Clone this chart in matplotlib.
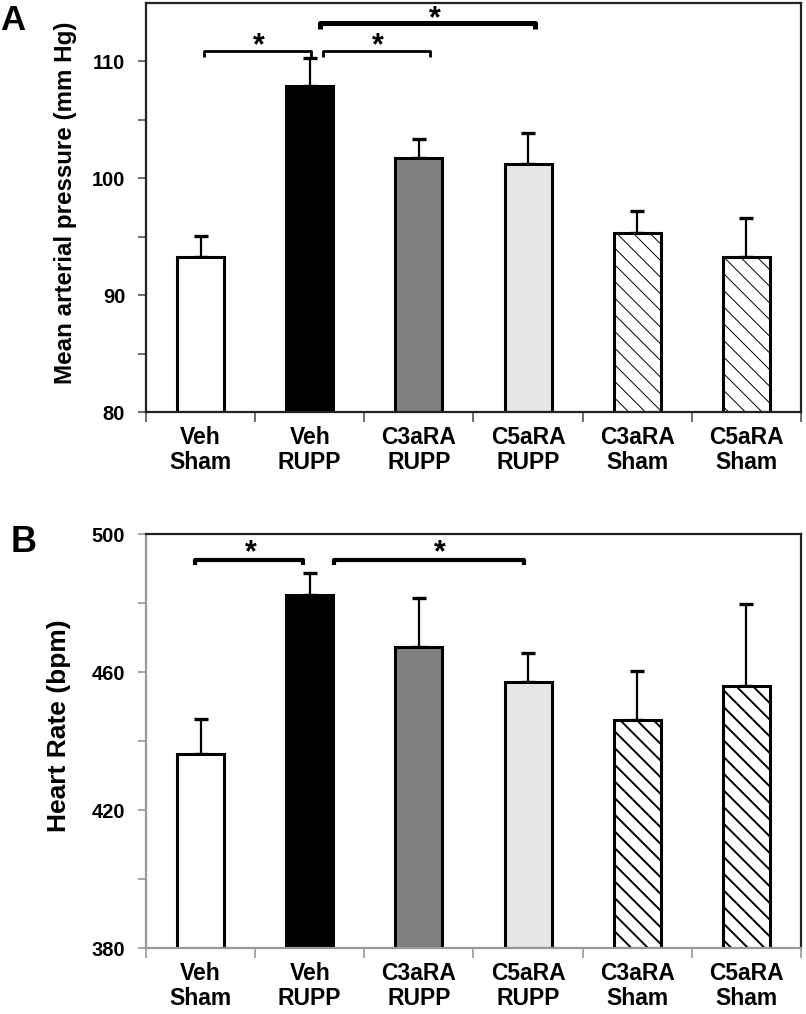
import numpy as np
import matplotlib.pyplot as plt

plt.rcParams['font.family'] = ['Liberation Sans', 'DejaVu Sans']
plt.rcParams['font.weight'] = 'bold'

# ---- data ----
groups = ["Veh\nSham", "Veh\nRUPP", "C3aRA\nRUPP", "C5aRA\nRUPP", "C3aRA\nSham", "C5aRA\nSham"]
map_mean = [93.3, 107.9, 101.7, 101.2, 95.3, 93.3]
map_err = [1.8, 2.4, 1.7, 2.7, 1.9, 3.3]
hr_mean = [436.3, 482.4, 467.2, 457.2, 446.2, 456.0]
hr_err = [10.2, 6.3, 14.2, 8.4, 14.0, 23.8]

bar_colors = ["white", "black", "#808080", "#e6e6e6", "white", "white"]
bar_hatch = [None, None, None, None, "\\\\", "\\\\"]

# significance brackets: (x start, x end, height)
map_brackets = [(0.03, 1.01, 110.9), (1.12, 2.10, 110.9), (1.09, 3.06, 113.3)]
map_bracket_lw = [2.0, 2.0, 3.6]
map_stars = [(0.53, 111.3), (1.62, 111.3), (2.15, 113.6)]
hr_brackets = [(-0.05, 0.94, 492.5), (1.22, 2.96, 492.5)]
hr_stars = [(0.46, 494.3), (2.19, 494.3)]

W, H = 806, 1014
fig = plt.figure(figsize=(W / 100, H / 100), dpi=100)


def panel(rect, means, errs, ylim, major, minor, ylabel, label_size, label_xy,
          spine_col, tick_col, brackets, bracket_lw, stars, tick_drop, hatch_lw):
    ax = fig.add_axes(rect)
    x = np.arange(len(means))
    bars = ax.bar(x, np.array(means) - ylim[0], bottom=ylim[0], width=0.43,
                  color=bar_colors, edgecolor="black", linewidth=2.2, zorder=2)
    for b, h in zip(bars, bar_hatch):
        if h:
            b.set_hatch(h)
            try:
                b.set_hatch_linewidth(hatch_lw)
            except AttributeError:
                pass
    ax.errorbar(x, means, yerr=[np.zeros(len(errs)), errs], fmt="none",
                ecolor="black", elinewidth=1.6, capsize=5, capthick=2.4, zorder=1)
    ax.set_xlim(-0.5, len(means) - 0.5)
    ax.set_ylim(*ylim)
    ax.set_yticks(minor, minor=True)
    ax.set_yticks(major)
    ax.set_yticklabels([str(v) for v in major], fontsize=14.5, fontweight="bold")
    ax.set_xticks(x)
    ax.set_xticklabels(groups, fontsize=16.5, fontweight="bold", linespacing=1.12)
    ax.set_xticks(np.arange(len(means) + 1) - 0.5, minor=True)
    ax.tick_params(axis="x", which="major", length=0, pad=10)
    ax.tick_params(axis="x", which="minor", length=7, width=1.2, color=tick_col)
    ax.tick_params(axis="y", which="both", length=6, width=1.2, color=tick_col, pad=9)
    for s in ["top", "right"]:
        ax.spines[s].set_color("#222222")
        ax.spines[s].set_linewidth(1.6)
    for s in ["left", "bottom"]:
        ax.spines[s].set_color(spine_col)
        ax.spines[s].set_linewidth(1.6)
    ax.set_ylabel(ylabel, fontsize=label_size, fontweight="bold")
    ax.yaxis.set_label_coords(*label_xy)
    for (x0, x1, yb), lw in zip(brackets, bracket_lw):
        ax.plot([x0, x0, x1, x1], [yb - tick_drop, yb, yb, yb - tick_drop],
                color="black", lw=lw, solid_capstyle="butt", clip_on=False)
    for sx, sy in stars:
        ax.text(sx, sy, "*", fontsize=22, fontweight="bold", ha="center", va="center")
    return ax


axA = panel([146 / W, 1 - 412 / H, 655 / W, 409 / H], map_mean, map_err, (80, 115),
            [80, 90, 100, 110], [85, 95, 105], "Mean arterial pressure (mm Hg)",
            17.4, (-0.105, 0.511),
            "#222222", "#555555", map_brackets, map_bracket_lw, map_stars, 0.5, 0.7)
axB = panel([146 / W, 1 - 948 / H, 655 / W, 414 / H], hr_mean, hr_err, (380, 500),
            [380, 420, 460, 500], [400, 440, 480], "Heart Rate (bpm)",
            19, (-0.115, 0.536),
            "#999999", "#999999", hr_brackets, [3.0, 3.0], hr_stars, 1.6, 1.4)

fig.text(0 / W, 1 - 21 / H, "A", fontsize=25, fontweight="bold", va="center", ha="left")
fig.text(11 / W, 1 - 543 / H, "B", fontsize=26, fontweight="bold", va="center", ha="left")

fig.savefig("out.png", dpi=100)
